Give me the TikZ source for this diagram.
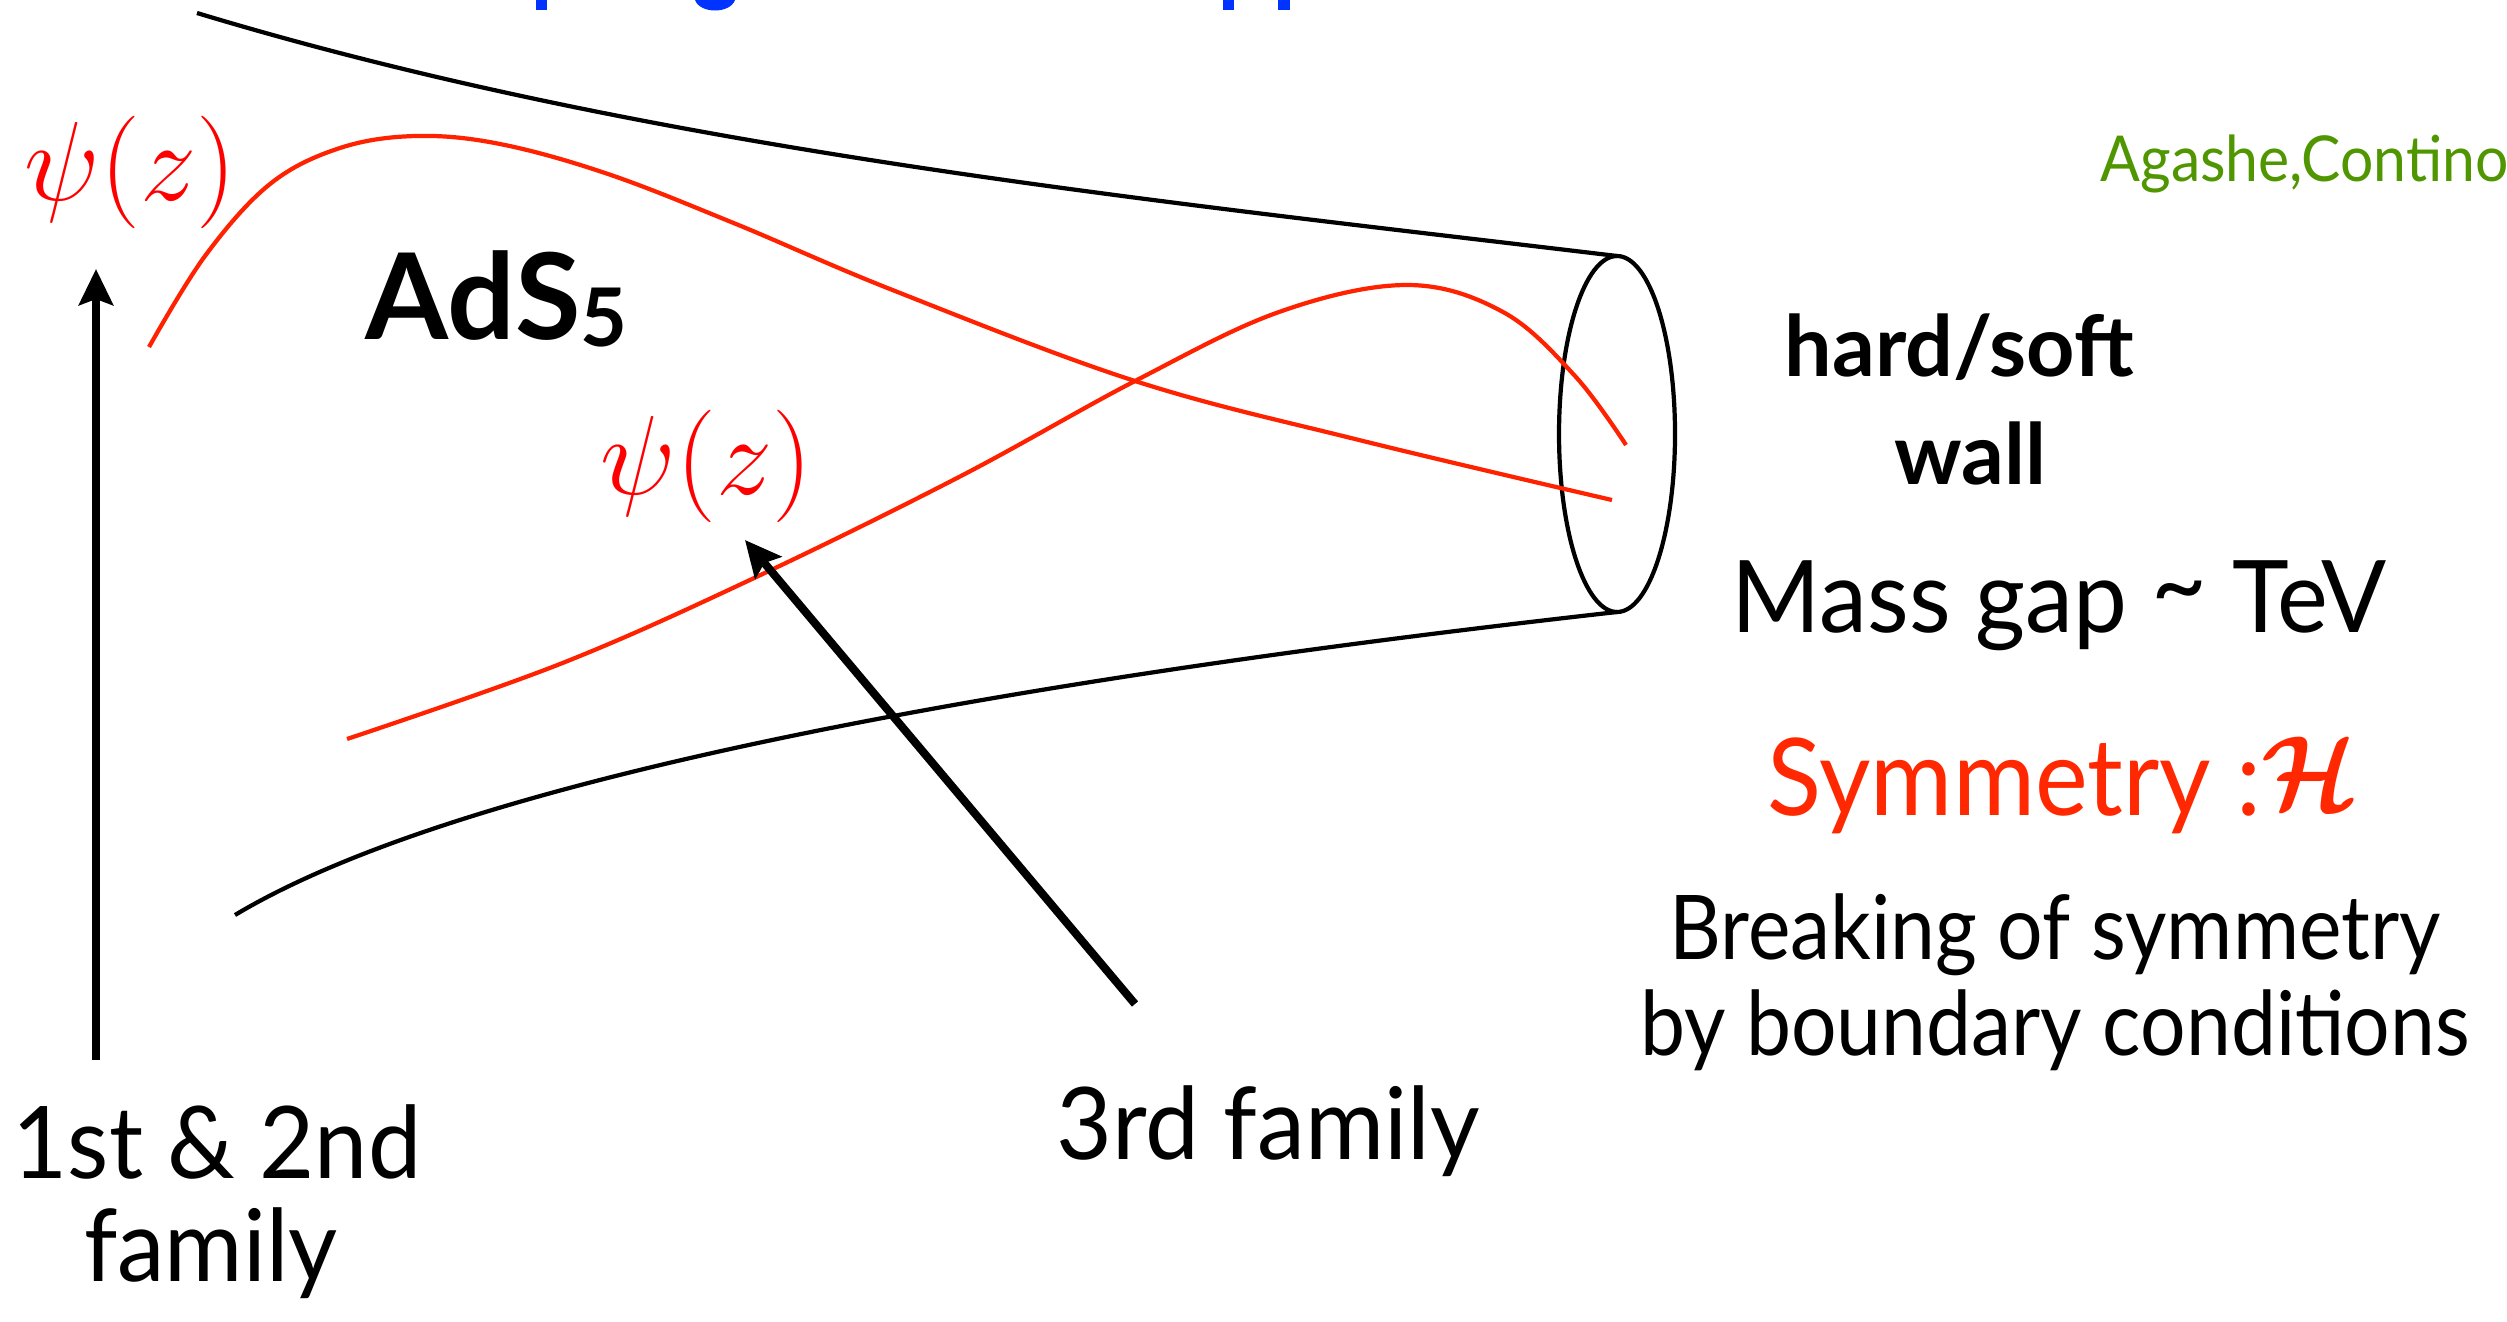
\RequirePackage{fix-cm}
\documentclass[tikz,border=0pt]{standalone}
\usepackage{amsmath}
\usepackage{bm}
\usepackage{fontspec}
\setmainfont{Lato}
\usetikzlibrary{arrows.meta}
\definecolor{wred}{RGB}{255,34,0}
\definecolor{tred}{RGB}{255,40,0}
\definecolor{psired}{RGB}{255,0,0}
\definecolor{cgreen}{RGB}{80,150,0}
\definecolor{tblue}{RGB}{0,51,255}
\begin{document}
\begin{tikzpicture}[x=0.01cm,y=-0.01cm,
  wave/.style={draw=wred,line width=1.2pt},
  wallline/.style={draw=black,line width=1.2pt},
  pointer/.style={line width=2.3pt,-{Stealth[length=0.36cm,width=0.34cm,inset=0.06cm]}},
  lbl/.style={inner sep=0pt,anchor=base},
  lblw/.style={inner sep=0pt,anchor=base west},
  psilbl/.style={inner sep=0pt,anchor=base west,text=psired,font=\fontsize{32}{38}\selectfont}]
\useasboundingbox (0,0) rectangle (2507,1321);

% cut-off title fragments (blue)
\fill[tblue] (536,0) rectangle (547,10);
\fill[tblue] (695,0) .. controls (700,14) and (730,14) .. (735,0) -- cycle;
\fill[tblue] (1223,0) rectangle (1234,10);
\fill[tblue] (1278,0) rectangle (1290,10);

% wall coordinates
\coordinate (wallT) at (1617,256);
\coordinate (wallB) at (1617,612);
\coordinate (upStart) at (197,13);
\coordinate (loStart) at (235,915);

% AdS boundaries
\draw[wallline] (upStart) .. controls (650,150) and (1150,200) .. (wallT);
\draw[wallline] (loStart) .. controls (485,765) and (1100,670) .. (wallB);
\draw[wallline] (1617,434) ellipse [x radius=58, y radius=178];

% wave functions
\draw[wave] plot[smooth,tension=0.6] coordinates {(149,347) (205,256) (270,184) (340,148) (416,136) (500,144) (608,174) (736,224) (895,291) (1135,381) (1359,440) (1612,500)};
\draw[wave] plot[smooth,tension=0.6] coordinates {(347,739) (560,664) (752,579) (959,477) (1135,381) (1279,312) (1407,285) (1503,312) (1575,376) (1626,445)};

% labels
\node[psilbl] (psiA) at (24,200) {$\psi(z)$};
\node[psilbl] (psiB) at (600,494) {$\psi(z)$};
\node[lblw,font=\fontsize{34}{40}\selectfont\bfseries] (ads) at (365,339) {AdS\raisebox{-0.06em}{\fontsize{23}{26}\selectfont 5}};
\node[lbl,font=\fontsize{24}{28}\selectfont\bfseries] (hard) at (1959,376) {hard/soft};
\node[lbl,font=\fontsize{24}{28}\selectfont\bfseries] (wall) at (1970,484) {wall};
\node[lbl,font=\fontsize{28.5}{34}\selectfont] (gap) at (2059,632) {\scalebox{0.96}[1]{Mass gap \raisebox{0.12em}{\textasciitilde} TeV}};
\node[lbl,font=\fontsize{30.5}{36}\selectfont,text=tred] (sym) at (2063,815) {\scalebox{0.93}[1]{Symmetry :\raisebox{0.05em}{\fontsize{30}{36}\selectfont$\bm{\mathcal{H}}$}}};
\node[lbl,font=\fontsize{25.4}{30}\selectfont] (brk1) at (2055,959) {\scalebox{0.9}[1]{Breaking of symmetry}};
\node[lbl,font=\fontsize{25.4}{30}\selectfont] (brk2) at (2055,1055) {\scalebox{0.9}[1]{by boundary conditions}};
\node[lbl,font=\fontsize{28.5}{34}\selectfont] (famA) at (217,1178) {\scalebox{0.95}[1]{1st \& 2nd}};
\node[lbl,font=\fontsize{28.5}{34}\selectfont] (famAb) at (211,1281) {\scalebox{0.95}[1]{family}};
\node[lbl,font=\fontsize{28.5}{34}\selectfont] (famB) at (1268,1159) {\scalebox{0.96}[1]{3rd family}};
\node[lblw,font=\fontsize{18}{22}\selectfont,text=cgreen] (cite) at (2100,181) {\scalebox{0.93}[1]{Agashe,Contino}};

% pointers
\coordinate (pA0) at (96,1060);
\coordinate (pA1) at (96,269);
\coordinate (pB0) at (1135,1004);
\coordinate (pB1) at (745,540);
\draw[pointer] (pA0) -- (pA1);
\draw[pointer] (pB0) -- (pB1);
\end{tikzpicture}
\end{document}
